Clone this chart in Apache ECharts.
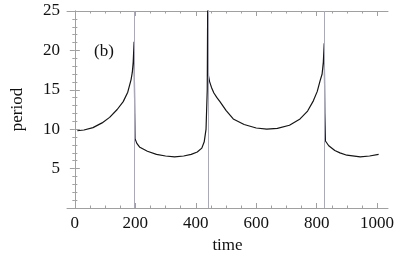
<!DOCTYPE html>
<html><head><meta charset="utf-8">
<script src="https://cdn.jsdelivr.net/npm/echarts@6/dist/echarts.min.js"></script>
<style>html,body{margin:0;padding:0;background:#fff}#c{width:415px;height:257px}</style>
</head><body><div id="c"></div>
<script>
const time = [8, 30, 60, 90, 115, 140, 160, 175, 186, 190, 193, 196, 198, 199, 205, 215, 240, 270, 300, 330, 360, 385, 405, 420, 428, 434, 438, 440, 442, 446, 452, 460, 470, 480, 500, 524, 560, 600, 635, 670, 710, 745, 770, 789, 802, 811, 818, 822, 825, 827, 829, 840, 860, 877, 900, 944, 975, 1005];
const period = [9.8, 9.9, 10.2, 10.8, 11.5, 12.5, 13.5, 14.7, 16.3, 17.2, 18.5, 21.1, 12, 8.8, 8.2, 7.7, 7.2, 6.8, 6.6, 6.5, 6.6, 6.8, 7.1, 7.6, 8.4, 10, 15, 30, 16.8, 16.0, 15.3, 14.6, 14.0, 13.5, 12.4, 11.3, 10.6, 10.15, 10.0, 10.1, 10.5, 11.3, 12.3, 13.6, 14.8, 16.1, 17.0, 18.5, 20.9, 12, 8.5, 7.9, 7.3, 7.0, 6.7, 6.5, 6.6, 6.8];
const transitionTimes = [198, 440, 824];
const xMajorTicks = [0, 200, 400, 600, 800, 1000];
const xMinorTicks = [50, 100, 150, 250, 300, 350, 450, 500, 550, 650, 700, 750, 850, 900, 950];
const yTicks = [5, 10, 15, 20, 25];

const font = 'Liberation Serif';
const frame = '#a0a0a0';
const chart = echarts.init(document.getElementById('c'));
function xAx(pos, ticks, len, showLabel, showLine) {
  return {
    type: 'value', position: pos, min: -26, max: 1036,
    axisLine: {show: showLine, lineStyle: {color: frame, width: 1}},
    axisTick: {show: true, inside: true, length: len, customValues: ticks, lineStyle: {color: frame}},
    axisLabel: showLabel ? {show: true, customValues: xMajorTicks, color: '#111', fontFamily: font, fontSize: 17, margin: 7,
      formatter: v => String(v)} : {show: false},
    splitLine: {show: false}
  };
}
const xAxes = [xAx('bottom', xMajorTicks, 5, true, true), xAx('bottom', xMinorTicks, 2.5, false, false),
  xAx('top', xMajorTicks, 5, false, true), xAx('top', xMinorTicks, 2.5, false, false)];
xAxes[0].name = 'time';
xAxes[0].nameLocation = 'middle';
xAxes[0].nameGap = 29;
xAxes[0].nameTextStyle = {color: '#111', fontFamily: font, fontSize: 17};
function yAx(pos, showLabel) {
  const a = {
    type: 'value', position: pos, min: 0, max: 25, interval: 5,
    axisLine: {show: true, lineStyle: {color: frame, width: 1}},
    axisTick: {show: true, inside: true, length: 5, lineStyle: {color: frame}},
    minorTick: {show: true, splitNumber: 5, length: 2.5, lineStyle: {color: frame}},
    axisLabel: showLabel ? {show: true, color: '#111', fontFamily: font, fontSize: 17, margin: 7,
      formatter: v => yTicks.includes(v) ? String(v) : ''} : {show: false},
    splitLine: {show: false}
  };
  if (showLabel) {
    a.name = 'period'; a.nameLocation = 'middle'; a.nameGap = 41;
    a.nameTextStyle = {color: '#111', fontFamily: font, fontSize: 17};
  }
  return a;
}
chart.setOption({
  animation: false,
  grid: {left: 67, top: 11, right: 27, bottom: 49, containLabel: false, outerBoundsMode: 'none'},
  xAxis: xAxes,
  yAxis: [yAx('left', true), yAx('right', false)],
  graphic: [{type: 'text', left: 94, top: 43, style: {text: '(b)', font: '17px "Liberation Serif"', fill: '#111'}}],
  series: [{
    type: 'line', xAxisIndex: 0, yAxisIndex: 0, showSymbol: false, clip: true,
    data: time.map((t, i) => [t, period[i]]),
    lineStyle: {color: '#151515', width: 1.2},
    markLine: {silent: true, symbol: 'none', label: {show: false},
      lineStyle: {color: '#a8a8c4', width: 1, type: 'solid'},
      data: transitionTimes.map(t => ({xAxis: t}))}
  }]
});
</script></body></html>
